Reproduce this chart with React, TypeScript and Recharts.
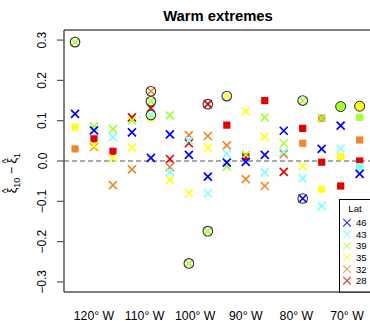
import React from 'react';
import { ScatterChart, Scatter, XAxis, YAxis, ReferenceLine } from 'recharts';

// longitudes of the grid columns (degrees east)
const lons = [-123.75, -120, -116.25, -112.5, -108.75, -105, -101.25, -97.5, -93.75, -90, -86.25, -82.5, -78.75, -75, -71.25, -67.5];
const lats = [46, 43, 39, 35, 32, 28];
const latColors = ['#0000FF', '#80FFFF', '#A6FF33', '#FFFF1A', '#F0882A', '#E60000'];

// xi10 - xi1 per latitude band (null = not shown)
const v46 = [0.117, 0.076, null, 0.071, 0.008, 0.066, 0.015, -0.039, -0.004, -0.002, 0.015, 0.075, -0.093, 0.030, 0.088, -0.032];
const v43 = [null, null, 0.059, null, 0.114, -0.027, 0.051, -0.080, 0.018, null, -0.028, 0.023, -0.043, -0.112, 0.031, -0.014];
const v39 = [0.295, 0.086, 0.079, 0.101, 0.148, 0.113, -0.254, -0.174, -0.014, 0.015, 0.108, 0.044, 0.150, 0.106, 0.135, 0.108];
const v35 = [0.084, 0.038, 0.007, 0.034, 0.106, -0.047, -0.080, 0.033, 0.161, 0.123, 0.060, null, -0.013, -0.070, 0.011, 0.136];
const v32 = [0.030, 0.035, -0.060, -0.021, 0.173, -0.015, 0.064, 0.062, 0.039, -0.045, -0.062, 0.017, 0.044, 0.106, null, 0.052];
const v28 = [null, 0.055, 0.024, 0.108, 0.131, 0.005, 0.044, 0.141, 0.089, 0.011, 0.150, -0.027, 0.081, -0.003, -0.062, 0.000];

// column indices that are significant (circled)
const sig46 = [12];
const sig43 = [4];
const sig39 = [0, 4, 6, 7, 12, 14];
const sig35 = [8, 15];
const sig32 = [4];
const sig28 = [7];

// column indices that are ocean cells (filled squares)
const ocean46: number[] = [];
const ocean43 = [15];
const ocean39 = [14, 15];
const ocean35 = [0, 13, 14, 15];
const ocean32 = [0, 12, 13, 15];
const ocean28 = [1, 2, 8, 9, 10, 12, 13, 14, 15];

const xTicks = [-120, -110, -100, -90, -80, -70];
const yTicks = [-0.3, -0.2, -0.1, 0, 0.1, 0.2, 0.3];

const values = [v46, v43, v39, v35, v32, v28];
const sigs = [sig46, sig43, sig39, sig35, sig32, sig28];
const oceans = [ocean46, ocean43, ocean39, ocean35, ocean32, ocean28];

const series = lats.map((lat, k) => ({
  lat,
  color: latColors[k],
  data: lons
    .map((lon, i) => ({ lon, v: values[k][i], sig: sigs[k].includes(i), ocean: oceans[k].includes(i) }))
    .filter((d) => d.v !== null),
}));

const FONT = '"Liberation Sans", Arial, Helvetica, sans-serif';

function Marker(props: any) {
  const { cx, cy, payload, color } = props;
  if (cx == null || cy == null) return null;
  if (payload.ocean && payload.sig) {
    return <circle cx={cx} cy={cy} r={5} fill={color} stroke="#222" strokeWidth={1} />;
  }
  if (payload.ocean) {
    return <rect x={cx - 3.6} y={cy - 3.6} width={7.2} height={7.2} fill={color} />;
  }
  const h = 4;
  return (
    <g>
      <path
        d={`M${cx - h},${cy - h}L${cx + h},${cy + h}M${cx - h},${cy + h}L${cx + h},${cy - h}`}
        stroke={color}
        strokeWidth={1.7}
        fill="none"
      />
      {payload.sig && <circle cx={cx} cy={cy} r={4.8} fill="none" stroke="#333" strokeWidth={1.1} />}
    </g>
  );
}

const fmt = (v: number) => v.toFixed(1).replace('-', '\u2212');

function XTick(props: any) {
  const { x, y, payload } = props;
  return (
    <text x={x} y={y} dy={27.5} textAnchor="middle" fontSize={12.3} fontFamily={FONT} fill="#000">
      {`${Math.abs(payload.value)}\u00B0 W`}
    </text>
  );
}

function YTick(props: any) {
  const { x, y, payload } = props;
  const bx = x - 10.5;
  return (
    <text x={bx} y={y} transform={`rotate(-90 ${bx} ${y})`} textAnchor="middle" fontSize={12} fontFamily={FONT} fill="#000">
      {fmt(payload.value)}
    </text>
  );
}

export default function App() {
  const drawOrder = [...series].reverse();
  return (
    <div style={{ position: 'absolute', left: 0, top: 0, width: 370, height: 321, overflow: 'hidden', background: '#fff' }}>
      <ScatterChart width={370} height={321} margin={{ top: 30, right: 0, bottom: 0, left: 0 }}>
        <XAxis
          type="number"
          dataKey="lon"
          domain={[-125.93, -65.45]}
          ticks={xTicks}
          interval={0}
          height={29}
          tickSize={0}
          tickMargin={0}
          tickLine={false}
          axisLine={{ stroke: '#555', strokeWidth: 1.5 }}
          tick={<XTick />}
          allowDataOverflow
        />
        <YAxis
          type="number"
          dataKey="v"
          domain={[-0.325, 0.325]}
          ticks={yTicks}
          interval={0}
          width={64}
          tickSize={7}
          tickMargin={0}
          tickLine={{ stroke: '#555', strokeWidth: 1.2 }}
          axisLine={{ stroke: '#555', strokeWidth: 1.5 }}
          tick={<YTick />}
          allowDataOverflow
        />
        <ReferenceLine y={0.325} stroke="#555" strokeWidth={1.5} ifOverflow="extendDomain" />
        <ReferenceLine y={0} stroke="#555" strokeWidth={1.2} strokeDasharray="5 3" />
        {drawOrder.map((s) => (
          <Scatter
            key={s.lat}
            name={String(s.lat)}
            data={s.data}
            isAnimationActive={false}
            shape={(p: any) => <Marker {...p} color={s.color} />}
          />
        ))}
      </ScatterChart>
      <svg width={370} height={321} style={{ position: 'absolute', left: 0, top: 0, pointerEvents: 'none' }}>
        <text x={218} y={20.5} textAnchor="middle" fontSize={14.8} fontWeight="bold" fontFamily={FONT} fill="#000">
          Warm extremes
        </text>
        <text x={16} y={173} transform="rotate(-90 16 173)" textAnchor="middle" fontSize={12.5} fontFamily={FONT} fill="#000">
          <tspan>{'\u03BE'}</tspan>
          <tspan dx={-5.6} dy={-6.5} fontSize={10}>^</tspan>
          <tspan dx={0.8} dy={10} fontSize={9}>10</tspan>
          <tspan dy={-3.5}>{' \u2212 \u03BE'}</tspan>
          <tspan dx={-5.6} dy={-6.5} fontSize={10}>^</tspan>
          <tspan dx={0.8} dy={10} fontSize={9}>1</tspan>
        </text>
        <rect x={339.5} y={199.5} width={40} height={92.5} fill="#fff" stroke="#000" strokeWidth={1} />
        <text x={355} y={211.8} textAnchor="middle" fontSize={9.6} fontFamily={FONT} fill="#000">Lat</text>
        {lats.map((lat, i) => {
          const yc = 222.7 + i * 11.6;
          const xc = 347;
          const h = 3.8;
          return (
            <g key={lat}>
              <path
                d={`M${xc - h},${yc - h}L${xc + h},${yc + h}M${xc - h},${yc + h}L${xc + h},${yc - h}`}
                stroke={latColors[i]}
                strokeWidth={1.1}
                opacity={0.8}
              />
              <text x={356} y={yc + 3.4} fontSize={9.6} fontFamily={FONT} fill="#000">{lat}</text>
            </g>
          );
        })}
      </svg>
    </div>
  );
}
